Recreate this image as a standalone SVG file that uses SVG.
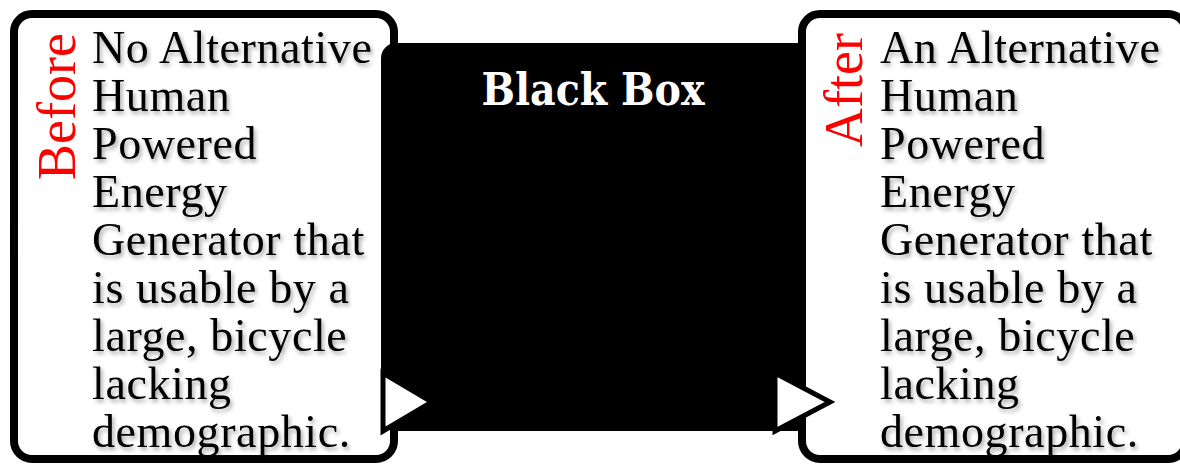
<svg xmlns="http://www.w3.org/2000/svg" width="1180" height="465" viewBox="0 0 1180 465">
<style>
.box{fill:#fff;stroke:#000;stroke-width:8}
.body{font-family:"Liberation Serif","Times New Roman",serif;font-size:46px;letter-spacing:0.6px;fill:#000;filter:url(#sh)}
.side{font-family:"Liberation Serif","Times New Roman",serif;font-size:54px;fill:#ff0000}
.title{font-family:"DejaVu Serif",serif;font-weight:bold;font-size:44px;fill:#fff}
.tri{fill:#fff;stroke:#000;stroke-width:5;stroke-linejoin:miter}
</style>
<defs>
<filter id="sh" x="-10%" y="-30%" width="130%" height="170%">
<feDropShadow dx="2" dy="3" stdDeviation="2" flood-color="#000" flood-opacity="0.35"/>
</filter>
</defs>
<g id="before">
<rect class="box" x="14" y="14" width="380" height="445" rx="18"/>
<text class="side" transform="translate(75,180) rotate(-90)">Before</text>
<text class="body" x="92" y="63">No Alternative</text>
<text class="body" x="92" y="111">Human</text>
<text class="body" x="92" y="159">Powered</text>
<text class="body" x="92" y="207">Energy</text>
<text class="body" x="92" y="255">Generator that</text>
<text class="body" x="92" y="303">is usable by a</text>
<text class="body" x="92" y="351">large, bicycle</text>
<text class="body" x="92" y="399">lacking</text>
<text class="body" x="92" y="447">demographic.</text>
</g>
<g id="blackbox">
<rect x="381" y="43" width="440" height="388" rx="15" fill="#000"/>
<text class="title" x="593" y="105" text-anchor="middle" textLength="223" lengthAdjust="spacingAndGlyphs">Black Box</text>
</g>
<g id="after">
<rect class="box" x="802" y="14" width="384" height="445" rx="18"/>
<text class="side" transform="translate(862,147) rotate(-90)">After</text>
<text class="body" x="880" y="63">An Alternative</text>
<text class="body" x="880" y="111">Human</text>
<text class="body" x="880" y="159">Powered</text>
<text class="body" x="880" y="207">Energy</text>
<text class="body" x="880" y="255">Generator that</text>
<text class="body" x="880" y="303">is usable by a</text>
<text class="body" x="880" y="351">large, bicycle</text>
<text class="body" x="880" y="399">lacking</text>
<text class="body" x="880" y="447">demographic.</text>
</g>
<g id="connectors">
<polygon class="tri" points="383,373 432,402 383,431"/>
<polygon class="tri" points="775,373 830,402 775,431"/>
</g>
</svg>
